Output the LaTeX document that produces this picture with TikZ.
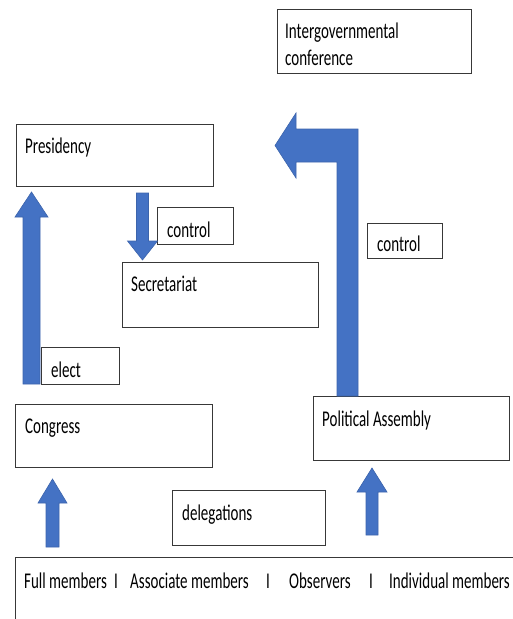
\documentclass[tikz,border=0pt]{standalone}
\usepackage{fontspec}
\setmainfont[FakeStretch=0.667]{Carlito}
\definecolor{officeblue}{HTML}{4472C4}
\tikzset{
  box/.style={draw=black!78, line width=1.1pt, fill=white, inner sep=0pt, anchor=north west},
  lbl/.style={anchor=base west, inner sep=0pt, font=\fontsize{22.5}{27}\selectfont, text=black},
  blk/.style={fill=officeblue, draw=officeblue!88!black, line width=0.6pt, line join=miter},
}
% rectangle node from its top-left corner (x1,y1) to bottom-right corner (x2,y2)
\newcommand{\mkbox}[5]{%
  \node[box, minimum width=#4pt-#2pt, minimum height=#5pt-#3pt] (#1) at (#2,#3) {};}
\begin{document}
\begin{tikzpicture}[x=1pt, y=-1pt]
\useasboundingbox (0,0) rectangle (512,619);

% boxes
\mkbox{igc}{277}{9}{471}{73}
\mkbox{pres}{16}{124}{213}{186}
\mkbox{ctlA}{157}{207}{233}{244}
\mkbox{sec}{122}{262}{318}{327}
\mkbox{ctlB}{367}{223}{442}{258}
\mkbox{elect}{41}{347}{119}{384}
\mkbox{cong}{15}{404}{212}{467}
\mkbox{pa}{313}{396}{509}{460}
\mkbox{deleg}{172}{490}{325}{545}
\mkbox{members}{15}{557}{540}{660}

% labels (the two-line label is anchored on its last baseline)
\node[lbl, align=left] (igcT) at ([shift={(8pt,-56pt)}]igc.north west) {Intergovernmental\\conference};
\node[lbl] (presT) at ([shift={(9pt,-29pt)}]pres.north west) {Presidency};
\node[lbl] (ctlAT) at ([shift={(10pt,-30pt)}]ctlA.north west) {control};
\node[lbl] (secT) at ([shift={(9pt,-29pt)}]sec.north west) {Secretariat};
\node[lbl] (ctlBT) at ([shift={(10pt,-28pt)}]ctlB.north west) {control};
\node[lbl] (electT) at ([shift={(10pt,-30pt)}]elect.north west) {elect};
\node[lbl] (congT) at ([shift={(10pt,-29pt)}]cong.north west) {Congress};
\node[lbl] (paT) at ([shift={(9pt,-30pt)}]pa.north west) {Political Assembly};
\node[lbl] (delegT) at ([shift={(10pt,-30pt)}]deleg.north west) {delegations};

% member categories along the bottom
\node[lbl] (full) at (24,588) {Full members};
\node[lbl] (sepA) at (114,588) {I};
\node[lbl] (assoc) at (130,588) {Associate members};
\node[lbl] (sepB) at (266,588) {I};
\node[lbl] (obs) at (289,588) {Observers};
\node[lbl] (sepC) at (369,588) {I};
\node[lbl] (indiv) at (389,588) {Individual members};

% block arrows
% Congress elects the Presidency
\path[blk] (23,384) -- (23,217) -- (15,217) -- (31.5,192) -- (48,217) -- (40,217) -- (40,384) -- cycle;
% Presidency controls the Secretariat
\path[blk] (136.5,193) -- (148.5,193) -- (148.5,241) -- (157.5,241) -- (142.5,260) -- (127.5,241) -- (136.5,241) -- cycle;
% members into Congress
\path[blk] (46,547) -- (46,503) -- (38,503) -- (52.5,479) -- (67,503) -- (59,503) -- (59,547) -- cycle;
% delegations into the Political Assembly
\path[blk] (366,535) -- (366,492) -- (357,492) -- (372,468) -- (387,492) -- (378,492) -- (378,535) -- cycle;
% Political Assembly controls the Intergovernmental conference
\path[blk] (358,396) -- (358,129) -- (296,129) -- (296,113) -- (275,145.5) -- (296,178) -- (296,162) -- (337,162) -- (337,396) -- cycle;
\end{tikzpicture}
\end{document}
